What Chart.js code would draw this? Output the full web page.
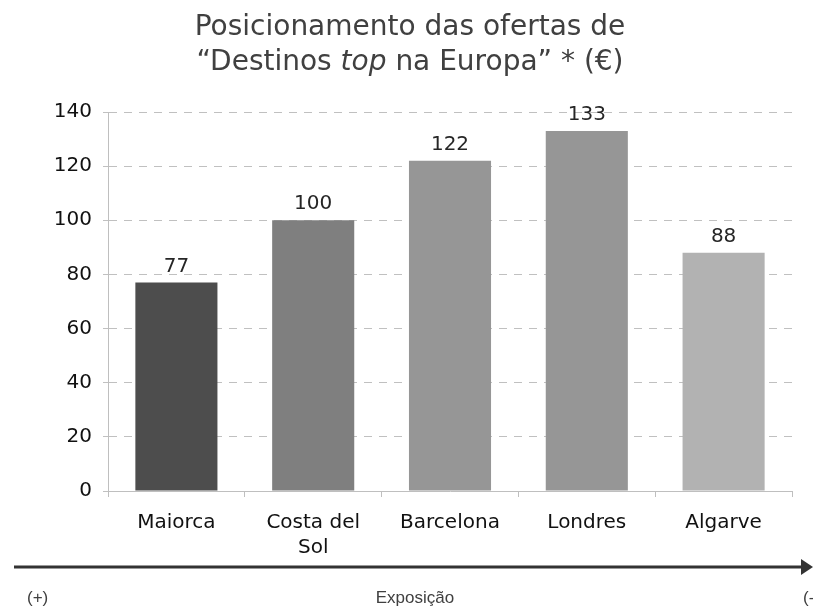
<!DOCTYPE html>
<html>
<head>
<meta charset="utf-8">
<script src="https://cdn.jsdelivr.net/npm/chart.js@4"></script>
<style>
  html, body { margin: 0; padding: 0; background: #ffffff; }
  #wrap { width: 813px; height: 606px; }
</style>
</head>
<body>
<div id="wrap"><canvas id="barChart" width="813" height="606"></canvas></div>
<script>
const destinos = ["Maiorca", ["Costa del", "Sol"], "Barcelona", "Londres", "Algarve"];
const precos = [77, 100, 122, 133, 88];
const yTicks = [0, 20, 40, 60, 80, 100, 120, 140];
const tituloLinha1 = "Posicionamento das ofertas de";
const tituloLinha2 = ["“Destinos ", "top", " na Europa” * (€)"];
const eixoTextos = ["(+)", "Exposição", "(-)"];

const barColors = ["#4d4d4d", "#7f7f7f", "#969696", "#969696", "#b2b2b2"];
const fontFamily = "'DejaVu Sans', Verdana, sans-serif";

// titulo com "top" em italico
const tituloPlugin = {
  id: "titulo",
  afterDraw(chart) {
    const ctx = chart.ctx;
    ctx.save();
    ctx.fillStyle = "#404040";
    ctx.textBaseline = "alphabetic";
    ctx.font = "28px " + fontFamily;
    ctx.textAlign = "center";
    ctx.fillText(tituloLinha1, 410, 35);

    ctx.textAlign = "left";
    const fonts = ["28px " + fontFamily, "italic 28px " + fontFamily, "28px " + fontFamily];
    let total = 0;
    tituloLinha2.forEach((t, i) => {
      ctx.font = fonts[i];
      total += ctx.measureText(t).width;
    });
    let x = 410 - total / 2;
    tituloLinha2.forEach((t, i) => {
      ctx.font = fonts[i];
      ctx.fillText(t, x, 70);
      x += ctx.measureText(t).width;
    });
    ctx.restore();
  },
};

// valores por cima das barras
const valoresPlugin = {
  id: "valores",
  afterDatasetsDraw(chart) {
    const ctx = chart.ctx;
    const meta = chart.getDatasetMeta(0);
    ctx.save();
    ctx.font = "20px " + fontFamily;
    ctx.fillStyle = "#262626";
    ctx.textAlign = "center";
    ctx.textBaseline = "alphabetic";
    meta.data.forEach((bar, i) => {
      ctx.fillText(precos[i], bar.x, bar.y - 11);
    });
    ctx.restore();
  },
};

// seta de exposicao em baixo
const setaPlugin = {
  id: "seta",
  afterDraw(chart) {
    const ctx = chart.ctx;
    ctx.save();
    ctx.strokeStyle = "#333333";
    ctx.fillStyle = "#333333";
    ctx.lineWidth = 3;
    ctx.beginPath();
    ctx.moveTo(14, 567);
    ctx.lineTo(803, 567);
    ctx.stroke();
    ctx.beginPath();
    ctx.moveTo(801, 559);
    ctx.lineTo(813, 567);
    ctx.lineTo(801, 575);
    ctx.closePath();
    ctx.fill();

    ctx.font = "17px 'Liberation Sans', Arial, sans-serif";
    ctx.fillStyle = "#404040";
    ctx.textBaseline = "alphabetic";
    ctx.textAlign = "left";
    ctx.fillText(eixoTextos[0], 27, 603);
    ctx.textAlign = "center";
    ctx.fillText(eixoTextos[1], 415, 603);
    ctx.textAlign = "left";
    ctx.fillText(eixoTextos[2], 803, 603);
    ctx.restore();
  },
};

function showBarChart() {
  const ctx = document.getElementById("barChart");

  new Chart(ctx, {
    type: "bar",
    data: {
      labels: destinos,
      datasets: [
        {
          data: precos,
          backgroundColor: barColors,
          borderWidth: 0,
          barPercentage: 0.6,
          categoryPercentage: 1,
        },
      ],
    },
    options: {
      responsive: false,
      animation: false,
      layout: {
        padding: { top: 112, right: 21, bottom: 0, left: 0 },
      },
      plugins: {
        legend: { display: false },
        title: { display: false },
        tooltip: { enabled: false },
      },
      scales: {
        x: {
          afterFit: (scale) => {
            scale.height = 115;
          },
          grid: {
            display: true,
            drawOnChartArea: false,
            drawTicks: true,
            tickLength: 6,
            color: "#bfbfbf",
            offset: true,
          },
          border: { display: true, color: "#bfbfbf", width: 1 },
          ticks: {
            color: "#111111",
            padding: 13,
            maxRotation: 0,
            autoSkip: false,
            font: { family: fontFamily, size: 20, lineHeight: 1.25 },
          },
        },
        y: {
          min: 0,
          max: 140,
          afterFit: (scale) => {
            scale.width = 108;
          },
          afterBuildTicks: (scale) => {
            scale.ticks = yTicks.map((v) => ({ value: v }));
          },
          grid: {
            color: "#c0c0c0",
            tickLength: 5,
            drawTicks: true,
          },
          border: { display: true, color: "#bfbfbf", width: 1, dash: [8, 7] },
          ticks: {
            color: "#111111",
            padding: 11,
            font: { family: fontFamily, size: 20 },
          },
        },
      },
    },
    plugins: [tituloPlugin, valoresPlugin, setaPlugin],
  });
}

document.addEventListener("DOMContentLoaded", function () {
  showBarChart();
});
</script>
</body>
</html>
